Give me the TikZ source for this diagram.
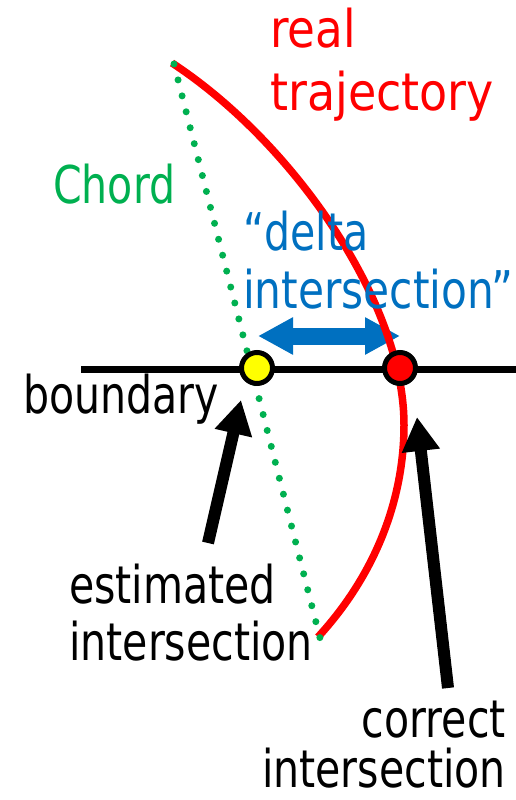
\documentclass[tikz,border=0pt]{standalone}
\usepackage{fontspec}
\setmainfont{DejaVu Sans}[FakeStretch=0.79]
\usetikzlibrary{arrows.meta}
\definecolor{cred}{HTML}{FF0000}
\definecolor{cgreen}{HTML}{00B050}
\definecolor{cblue}{HTML}{0070C0}
\definecolor{cyel}{HTML}{FFFF00}
\begin{document}
\begin{tikzpicture}[x=1pt,y=-1pt,
  txt/.style={inner sep=0pt, anchor=base west, font=\fontsize{52}{60}\selectfont},
  txtr/.style={txt, anchor=base east},
  bigarrow/.style={line width=12pt, -{Triangle[width=36pt,length=34pt]}},
  dblarrow/.style={cblue, line width=17pt, {Triangle[width=35pt,length=35pt]}-{Triangle[width=35pt,length=35pt]}},
  dot/.style={circle, draw=black, line width=5pt, minimum size=31pt, inner sep=0pt},
]
\useasboundingbox (0,0) rectangle (516,800);
% coordinates
\coordinate (ct) at (174,64);
\coordinate (cb) at (320,638);
\coordinate (bl) at (81,369);
\coordinate (br) at (516,369);
\coordinate (dl) at (258,336);
\coordinate (dr) at (400,336);
\coordinate (la) at (208,543);
\coordinate (lt) at (241,400);
\coordinate (ra) at (448,688);
\coordinate (rt) at (417,417);
\coordinate (rs) at (172,63);
\coordinate (rm) at (404,425);
\coordinate (re) at (318,637);
% blue delta arrow
\draw[dblarrow] (dl) -- (dr);
% real trajectory
\draw[cred, line width=7.5pt] (rs) .. controls (290,140) and (404,300) .. (rm)
  .. controls (404,500) and (375,575) .. (re);
% chord
\draw[cgreen, line width=7pt, line cap=round, dash pattern=on 0pt off 16.44pt] (ct) -- (cb);
% boundary
\draw[black, line width=7pt] (bl) -- (br);
\node[dot, fill=cyel] (est) at (257,368) {};
\node[dot, fill=cred] (cor) at (400,368) {};
% black arrows
\draw[bigarrow] (la) -- (lt);
\draw[bigarrow] (ra) -- (rt);
% texts
\node[txt, text=cred] (t1) at (270,48) {\scalebox{1.1}[1]{real}};
\node[txt, text=cred] (t2) at (270,110) {\scalebox{1.12}[1]{trajectory}};
\node[txt, text=cgreen] (t3) at (53,203) {Chord};
\node[txt, text=cblue] (t4) at (243,250) {“delta};
\node[txt, text=cblue] (t5) at (243,308) {\scalebox{1.03}[1]{intersection”}};
\node[txt] (t6) at (23,413) {boundary};
\node[txt] (t7) at (69,603) {estimated};
\node[txt] (t8) at (69,660) {intersection};
\node[txtr] (t9) at (506,737) {correct};
\node[txtr] (t10) at (506,787) {intersection};
\end{tikzpicture}
\end{document}
